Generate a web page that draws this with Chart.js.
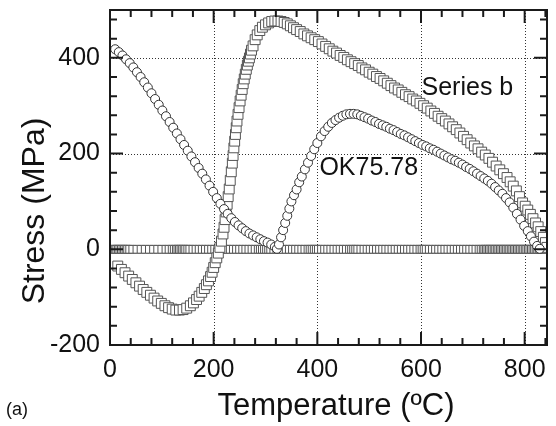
<!DOCTYPE html>
<html><head><meta charset="utf-8">
<script src="https://cdn.jsdelivr.net/npm/chart.js@4.4.1/dist/chart.umd.min.js"></script>
<style>html,body{margin:0;padding:0;background:#fff}</style>
</head><body>
<canvas id="c" width="556" height="426"></canvas>
<script>
// ---- tick labels ----
const xTickLabels = [0, 200, 400, 600, 800];
const yTickLabels = [-200, 0, 200, 400];
const xTitle = 'Temperature (ºC)';
const yTitle = 'Stress (MPa)';
const panelLabel = '(a)';

// ---- OK75.78 (circles) ----
const circleT = [10,17,24,31,38,45,52,59,66,73,80,87,94,101,108,115,122,129,136,143,150,157,164,171,178,185,192,199,206,213,220,227,234,241,248,255,262,269,276,283,290,297,304,311,318,
  322,326,330,334,338,342,346,350,355,360,365,370,376,382,388,394,400,407,414,421,428,435,442,449,456,463,470,477,484,491,498,505,512,519,526,533,540,547,554,561,568,575,582,589,596,603,610,617,624,631,638,645,652,659,666,673,680,687,694,701,708,715,722,729,736,743,750,757,764,771,778,785,792,799,806,812,818,824,829];
const circleS = [418,412,405,397,389,380,370,360,349,338,326,314,302,290,278,266,254,242,230,218,206,194,182,170,158,146,133,120,107,95,84,74,65,57,50,44,38,33,29,25,21,17,14,10,5,
  1,10,25,40,55,70,85,100,113,125,140,152,167,181,195,209,222,236,247,256,264,270,275,279,282,283,283,282,279,276,273,269,266,262,259,256,252,249,245,241,238,234,230,226,222,218,215,211,208,204,200,196,192,188,185,181,177,172,168,163,158,153,148,143,137,130,123,116,107,98,87,74,62,49,38,27,16,7,1];

// ---- Series b (squares) ----
const squareT = [15,22,29,36,43,50,57,64,71,78,85,92,99,106,113,120,127,134,141,148,155,161,167,172,177,182,186,190,194,197,200,203,206,209,212,215,218,220,222,224,226,228,230,232,234,236,237.5,239,240.5,242,243.5,245,247,249,251,253,255,257,259,261,263,265,267,269,271,273,276,280,284,289,294,300,306,312,318,324,330,336,342,348,354,360,367,374,381,388,395,402,409,416,423,430,437,444,451,458,465,472,479,486,493,500,507,514,521,528,535,542,549,556,563,570,577,584,591,598,605,612,619,626,633,640,647,654,661,668,675,682,689,696,703,710,717,724,731,738,745,752,759,766,772,778,784,790,796,801,806,811,816,821,826,831,836,840,843];
const squareS = [-35,-42,-49,-56,-63,-70,-77,-84,-90,-96,-102,-108,-113,-118,-122,-125,-127,-127,-126,-123,-118,-112,-105,-98,-90,-82,-74,-66,-57,-48,-38,-28,-18,-8,4,17,32,46,62,78,94,110,126,144,162,180,196,212,226,240,254,268,282,296,310,322,334,346,356,366,376,385,393,400,408,416,425,438,448,457,464,469,473,476,477,477,476,474,471,467,463,459,455,450,446,442,438,434,429,424,419,414,410,405,401,396,392,388,384,379,375,370,366,361,357,352,347,342,337,333,328,323,319,314,310,305,300,295,289,284,278,273,268,262,256,250,243,236,229,222,216,210,203,197,190,182,174,166,158,150,141,132,122,110,97,90,82,73,64,55,47,37,25,14,4];

// ---- zero band (squares lying at 0 MPa) ----
const zeroT = [4,7,10,13,16,19,22,25,28,31,34,38,44,52,60,68,76,84,92,100,108,114,120,124,128,131,134,137,140,143,146,150,154,160,166,172,178,184,190,196,202,208,214,220,226,232,238,244,250,256,262,268,274,280,286,290,294,298,302,306,310,316,322,328,334,340,346,352,358,364,370,376,382,386,390,394,398,402,408,414,420,426,432,438,444,450,456,462,466,470,474,478,484,490,496,502,508,514,520,526,532,538,544,550,556,562,568,574,580,586,592,598,602,606,610,616,622,628,634,640,646,652,658,664,670,676,682,688,694,700,706,712,716,720,723,726,729,732,735,738,741,744,747,750,753,756,759,762,765,768,771,774,777,780,783,786,789,792,795,798,801,804,807,810,813,816,819,822,825,828,831,834,838];
const zeroS = zeroT.map(() => 0);

// ---- annotations (data coordinates) ----
const notes = [
  { text: 'Series b', t: 601, s: 337 },
  { text: 'OK75.78', t: 404, s: 170 }
];

const FONT = '"Liberation Sans", Arial, Helvetica, sans-serif';
const pts = (xs, ys) => xs.map((v, i) => ({ x: v, y: ys[i] }));

const deco = {
  id: 'deco',
  beforeDatasetsDraw(chart) {
    const { ctx, chartArea: a, scales: { x, y } } = chart;
    ctx.save();
    ctx.strokeStyle = '#333';
    ctx.lineWidth = 1;
    ctx.setLineDash([1, 2]);
    xTickLabels.forEach(v => {
      if (v <= x.min) return;
      const px = Math.round(x.getPixelForValue(v)) + 0.5;
      ctx.beginPath(); ctx.moveTo(px, a.top); ctx.lineTo(px, a.bottom); ctx.stroke();
    });
    yTickLabels.forEach(v => {
      if (v <= y.min) return;
      const py = Math.round(y.getPixelForValue(v)) + 0.5;
      ctx.beginPath(); ctx.moveTo(a.left, py); ctx.lineTo(a.right, py); ctx.stroke();
    });
    ctx.restore();
  },
  afterDatasetsDraw(chart) {
    const { ctx, chartArea: a, scales: { x, y } } = chart;
    ctx.save();
    ctx.strokeStyle = '#1a1a1a';
    ctx.lineWidth = 2;
    ctx.strokeRect(a.left, a.top, a.right - a.left - 1, a.bottom - a.top);
    for (let v = 0; v <= x.max; v += 40) {
      const px = x.getPixelForValue(v);
      const len = (v % 200 === 0) ? 13 : 7;
      ctx.beginPath();
      ctx.moveTo(px, a.bottom); ctx.lineTo(px, a.bottom - len);
      ctx.moveTo(px, a.top); ctx.lineTo(px, a.top + len);
      ctx.stroke();
    }
    for (let v = y.min; v <= y.max; v += 40) {
      const py = y.getPixelForValue(v);
      const len = ((v - y.min) % 200 === 0) ? 13 : 7;
      ctx.beginPath();
      ctx.moveTo(a.left, py); ctx.lineTo(a.left + len, py);
      ctx.moveTo(a.right - 1, py); ctx.lineTo(a.right - 1 - len, py);
      ctx.stroke();
    }
    ctx.fillStyle = '#111';
    ctx.font = '25px ' + FONT;
    ctx.textAlign = 'left';
    ctx.textBaseline = 'middle';
    notes.forEach(n => ctx.fillText(n.text, x.getPixelForValue(n.t), y.getPixelForValue(n.s)));
    ctx.restore();
  },
  afterDraw(chart) {
    const { ctx, chartArea: a } = chart;
    ctx.save();
    ctx.fillStyle = '#111';
    ctx.font = '31px ' + FONT;
    ctx.textAlign = 'center';
    ctx.textBaseline = 'middle';
    ctx.fillText(xTitle, 336, 406);
    ctx.save();
    ctx.translate(35, 211);
    ctx.rotate(-Math.PI / 2);
    ctx.font = '32px ' + FONT;
    ctx.fillText(yTitle, 0, 0);
    ctx.restore();
    ctx.font = '18px ' + FONT;
    ctx.textAlign = 'left';
    ctx.fillText(panelLabel, 6, 410);
    ctx.restore();
  }
};

new Chart(document.getElementById('c'), {
  type: 'scatter',
  data: {
    datasets: [
      { label: 'OK75.78', data: pts(circleT, circleS), order: 1,
        pointStyle: 'circle', pointRadius: 4.5, pointBorderWidth: 1,
        pointBorderColor: '#333', pointBackgroundColor: '#fff', showLine: false },
      { label: 'Series b', data: pts(squareT, squareS), order: 2,
        pointStyle: 'rect', pointRadius: 7, pointBorderWidth: 1,
        pointBorderColor: '#555', pointBackgroundColor: '#fff', showLine: false },
      { label: 'zero', data: pts(zeroT, zeroS), order: 3,
        pointStyle: 'rect', pointRadius: 5.5, pointBorderWidth: 1,
        pointBorderColor: '#555', pointBackgroundColor: '#fff', showLine: false }
    ]
  },
  options: {
    responsive: false,
    animation: false,
    events: [],
    layout: { padding: { left: 50, right: 0, top: 10, bottom: 41 } },
    plugins: { legend: { display: false }, tooltip: { enabled: false } },
    scales: {
      x: {
        type: 'linear', min: 0, max: 845,
        afterBuildTicks: s => { s.ticks = xTickLabels.map(v => ({ value: v })); },
        afterFit: s => { s.height = 40; s.paddingLeft = 0; s.paddingRight = 0; },
        grid: { display: false, drawTicks: false },
        border: { display: false },
        ticks: { font: { family: FONT, size: 25 }, color: '#111', padding: 10, maxRotation: 0 }
      },
      y: {
        type: 'linear', min: -200, max: 500,
        afterBuildTicks: s => { s.ticks = yTickLabels.map(v => ({ value: v })); },
        afterFit: s => { s.width = 60; s.paddingTop = 0; s.paddingBottom = 0; },
        grid: { display: false, drawTicks: false },
        border: { display: false },
        ticks: { font: { family: FONT, size: 25 }, color: '#111', padding: 10 }
      }
    }
  },
  plugins: [deco]
});
</script>
</body></html>
